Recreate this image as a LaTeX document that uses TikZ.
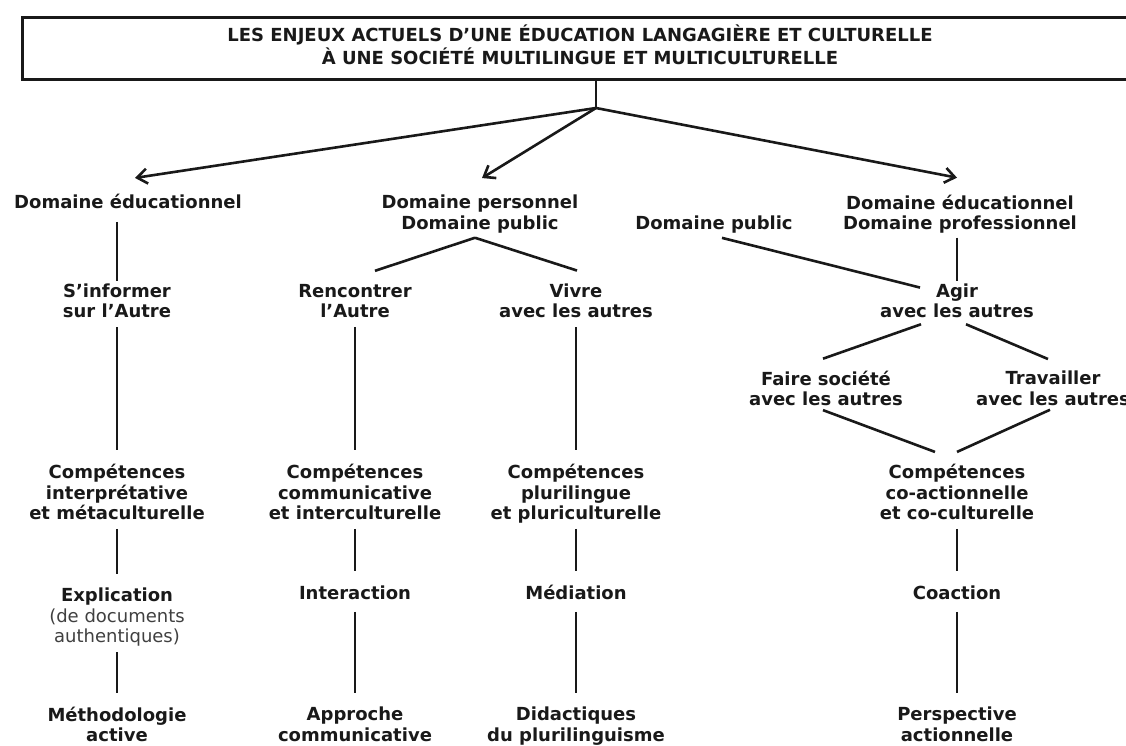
\documentclass[tikz,border=0pt]{standalone}
\usepackage{fontspec}
\setmainfont{DejaVu Sans}
\usetikzlibrary{arrows.meta,calc}

\begin{document}
\begin{tikzpicture}[x=1pt, y=-1pt,
    lbl/.style={font=\fontsize{18pt}{20.5pt}\selectfont\bfseries, text=black!90, align=center, inner sep=0pt,
        execute at begin node=\strut, execute at end node=\strut},
    headbox/.style={lbl, draw=black!90, line width=3pt, minimum width=1115pt, minimum height=62pt,
        font=\fontsize{18pt}{23pt}\selectfont\bfseries},
    wire/.style={draw=black!90, line width=2.6pt},
    link/.style={wire, shorten <=3pt, shorten >=14pt},
    arr/.style={wire, -{Straight Barb[length=10pt,width=15pt]}}]

    \useasboundingbox (0,0) rectangle (1126,745);
    \clip (0,0) rectangle (1126,745);

    % Title
    \node[headbox] (title) at (580,48.5) {LES ENJEUX ACTUELS D'UNE ÉDUCATION LANGAGIÈRE ET CULTURELLE\\À UNE SOCIÉTÉ MULTILINGUE ET MULTICULTURELLE};
    \coordinate (J) at (596,108);

    % Domains
    \node[lbl] (d1) at (128,204.4) {Domaine éducationnel};
    \node[lbl] (d2) at (480,215.4) {Domaine personnel\\Domaine public};
    \node[lbl] (d3) at (714,225.4) {Domaine public};
    \node[lbl] (d4) at (960,215.4) {Domaine éducationnel\\Domaine professionnel};

    % Aims
    \node[lbl] (s1) at (117,303.9) {S'informer\\sur l'Autre};
    \node[lbl] (s2) at (355,303.9) {Rencontrer\\l'Autre};
    \node[lbl] (s3) at (576,303.9) {Vivre\\avec les autres};
    \node[lbl] (s4) at (957,303.9) {Agir\\avec les autres};
    \node[lbl] (f1) at (826,391.4) {Faire société\\avec les autres};
    \node[lbl] (f2) at (1053,391.4) {Travailler\\avec les autres};

    % Competences
    \node[lbl] (c1) at (117,494.9) {Compétences\\interprétative\\et métaculturelle};
    \node[lbl] (c2) at (355,494.9) {Compétences\\communicative\\et interculturelle};
    \node[lbl] (c3) at (576,494.9) {Compétences\\plurilingue\\et pluriculturelle};
    \node[lbl] (c4) at (957,494.9) {Compétences\\co-actionnelle\\et co-culturelle};

    % Activities
    \node[lbl] (e1) at (117,618.4) {Explication\\\mdseries\color{black!75}(de documents\\\mdseries\color{black!75}authentiques)};
    \node[lbl] (e2) at (355,595.4) {Interaction};
    \node[lbl] (e3) at (576,595.4) {Médiation};
    \node[lbl] (e4) at (957,595.4) {Coaction};

    % Methodologies
    \node[lbl] (m1) at (117,727.4) {Méthodologie\\active};
    \node[lbl] (m2) at (355,727.4) {Approche\\communicative};
    \node[lbl] (m3) at (576,727.4) {Didactiques\\du plurilinguisme};
    \node[lbl] (m4) at (957,727.4) {Perspective\\actionnelle};

    % arrows from the title
    \draw[wire] (J |- title.south) -- (J);
    \draw[arr] (J) -- ($(d1.north)+(7,-16)$);
    \draw[arr] (J) -- ($(d2.north)+(2,-17)$);
    \draw[arr] (J) -- ($(d4.north)+(-3,-17)$);

    % branches
    \draw[link, shorten <=7pt, shorten >=3pt] (s1.north |- d1.south) -- (s1.north);
    \draw[link, shorten <=1.5pt, shorten >=3pt] (s4.north |- d4.south) -- (s4.north);
    \draw[wire] ($(d2.south)+(-5,2)$) -- ($(s2.north)+(20,-13)$);
    \draw[wire] ($(d2.south)+(-5,2)$) -- ($(s3.north)+(1,-13)$);
    \draw[wire] ($(d3.south)+(8,2)$) -- ($(s4.north)+(-37,4)$);
    \draw[wire] ($(s4.south)+(-36,0)$) -- ($(f1.north)+(-3,-12)$);
    \draw[wire] ($(s4.south)+(9,0)$) -- ($(f2.north)+(-5,-12)$);
    \draw[wire] ($(f1.south)+(-3,-2)$) -- ($(c4.north)+(-22,-12)$);
    \draw[wire] ($(f2.south)+(-3,-2)$) -- ($(c4.north)+(0,-12)$);

    \foreach \a/\b in {s1/c1, c1/e1, e1/m1, s2/c2, c2/e2, s3/c3, c3/e3, c4/e4}
        \draw[link] (\a.south) -- (\b.north);
    \foreach \a/\b in {e2/m2, e3/m3, e4/m4}
        \draw[link, shorten <=6pt, shorten >=14pt] (\a.south) -- (\b.north);
\end{tikzpicture}
\end{document}
